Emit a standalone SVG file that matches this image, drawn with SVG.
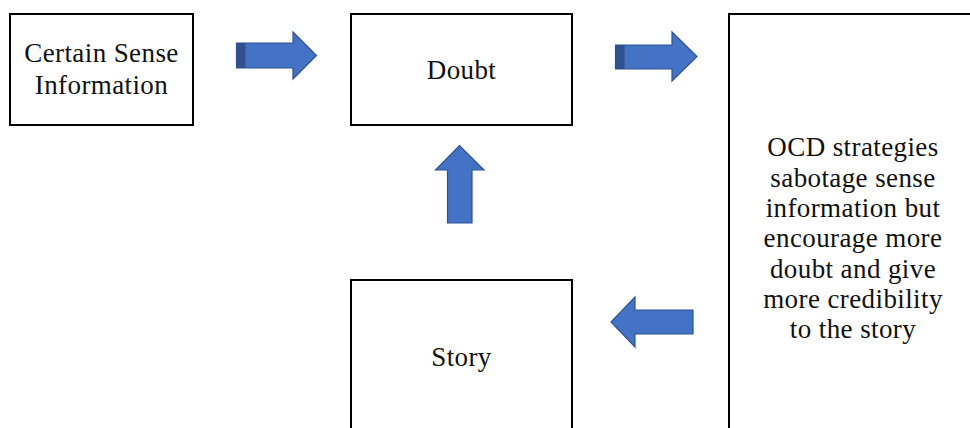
<svg xmlns="http://www.w3.org/2000/svg" width="970" height="428" viewBox="0 0 970 428">
<style>
.box{fill:#fff;stroke:#000;stroke-width:2}
.t{font-family:"Liberation Serif","Times New Roman",serif;font-size:27px;letter-spacing:0.4px;fill:#111;text-anchor:middle}
.arr{fill:#4472C4;stroke:#2F528F;stroke-width:1.2;stroke-linejoin:miter}
.dark{fill:#2F528F}
</style>
<rect width="970" height="428" fill="#fff"/>
<g id="n-certain">
<rect class="box" x="10" y="14" width="183" height="111"/>
<text class="t" x="101.5" y="62">Certain Sense</text>
<text class="t" x="101.5" y="94">Information</text>
</g>
<g id="n-doubt">
<rect class="box" x="351" y="14" width="221" height="111"/>
<text class="t" x="461.5" y="79">Doubt</text>
</g>
<g id="n-story">
<rect class="box" x="351" y="280" width="221" height="170"/>
<text class="t" x="461.5" y="366">Story</text>
</g>
<g id="n-ocd">
<rect class="box" x="729" y="14" width="250" height="430"/>
<text class="t" x="853" y="156">OCD strategies</text>
<text class="t" x="853" y="187">sabotage sense</text>
<text class="t" x="853" y="217">information but</text>
<text class="t" x="853" y="247">encourage more</text>
<text class="t" x="853" y="278">doubt and give</text>
<text class="t" x="853" y="308">more credibility</text>
<text class="t" x="853" y="338">to the story</text>
</g>
<g id="connectors">
<path class="arr" d="M236.5,43 H293 V32 L316.5,55.5 L293,79 V68 H236.5 Z"/>
<rect class="dark" x="236.5" y="43" width="9" height="25"/>
<path class="arr" d="M615.5,45 H672 V32 L697,56.5 L672,81 V69 H615.5 Z"/>
<rect class="dark" x="615.5" y="45" width="9" height="24"/>
<path class="arr" d="M447.5,223 V170 H435.5 L459.5,145.5 L484,170 H472 V223 Z"/>
<path class="arr" d="M693,310 H635 V297 L611,322 L635,347 V334 H693 Z"/>
</g>
</svg>
